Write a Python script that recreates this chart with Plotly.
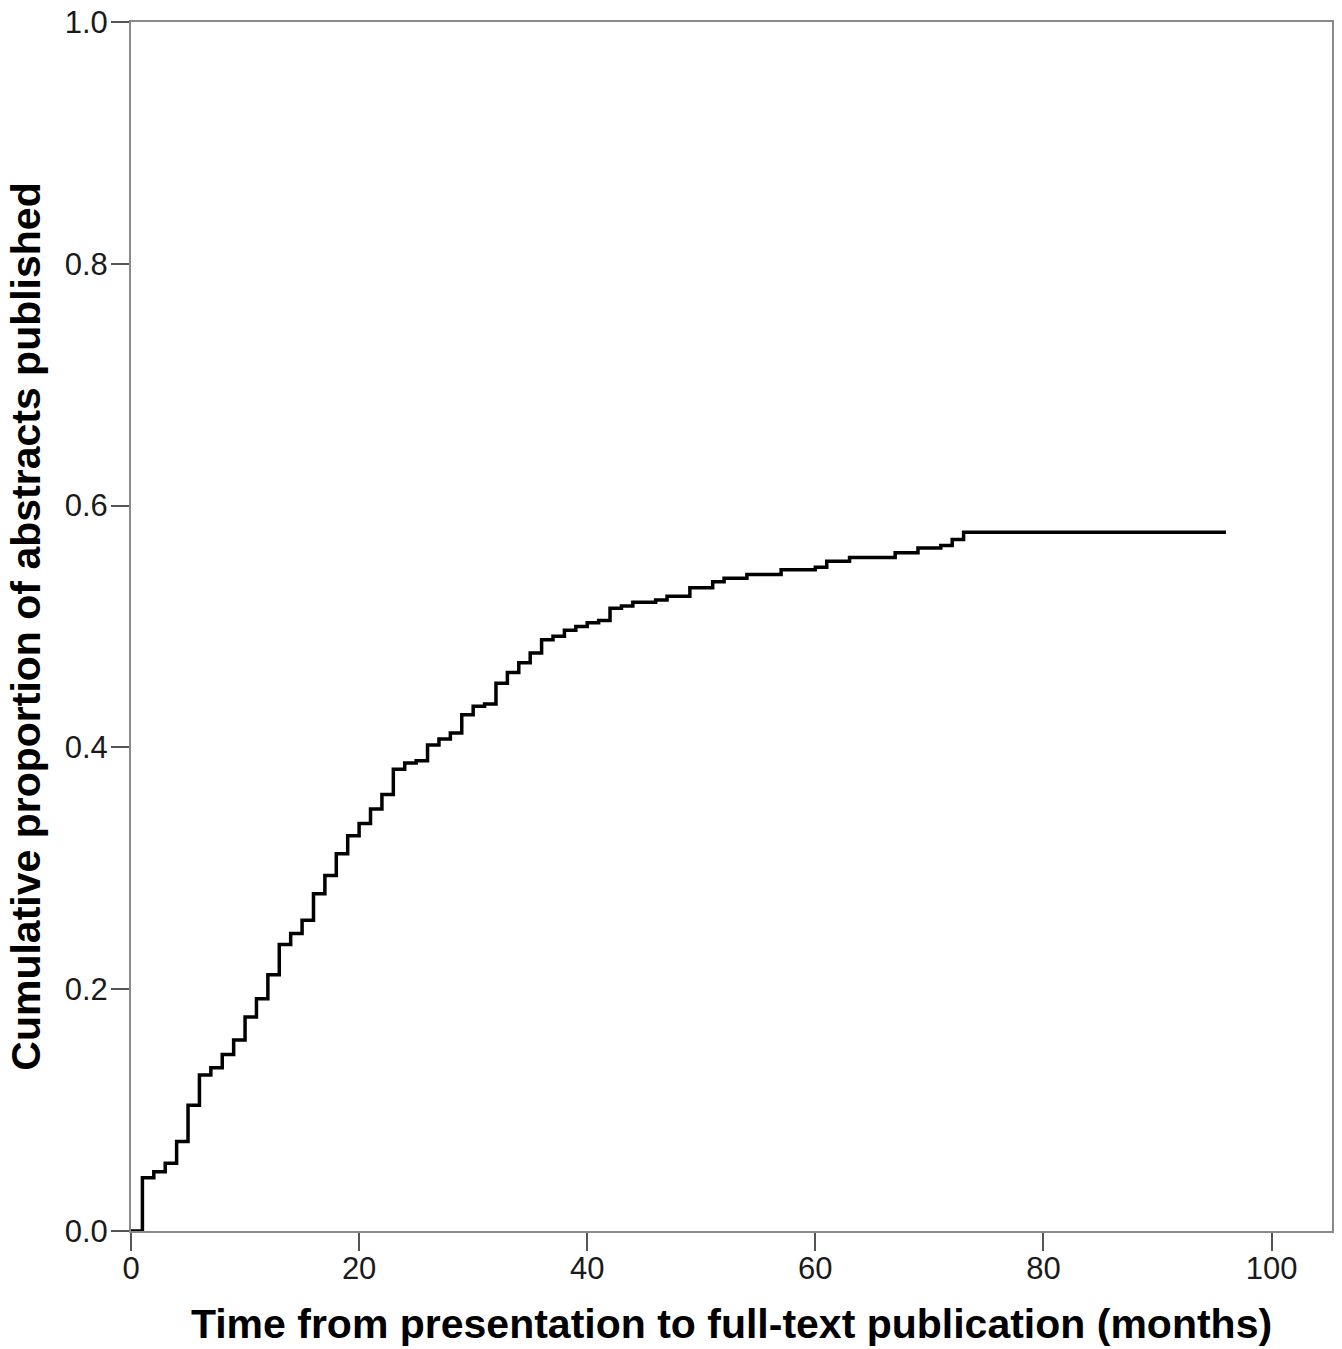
import plotly.graph_objects as go

# Step times (months) and cumulative proportion published after each step
months = [0, 1, 2, 3, 4, 5, 6, 7, 8, 9, 10, 11, 12, 13, 14, 15, 16, 17, 18, 19,
          20, 21, 22, 23, 24, 25, 26, 27, 28, 29, 30, 31, 32, 33, 34, 35, 36, 37,
          38, 39, 40, 41, 42, 43, 44, 46, 47, 49, 51, 52, 54, 57, 60, 61, 63, 67,
          69, 71, 72, 73, 96]
cum_prop = [0.0, 0.044, 0.049, 0.056, 0.074, 0.104, 0.129, 0.135, 0.146, 0.158,
            0.177, 0.192, 0.212, 0.237, 0.246, 0.257, 0.279, 0.294, 0.312, 0.327,
            0.337, 0.349, 0.361, 0.382, 0.387, 0.389, 0.402, 0.407, 0.412, 0.427,
            0.434, 0.436, 0.453, 0.462, 0.470, 0.478, 0.489, 0.492, 0.497, 0.500,
            0.503, 0.505, 0.515, 0.517, 0.520, 0.522, 0.525, 0.532, 0.537, 0.540,
            0.543, 0.547, 0.549, 0.554, 0.557, 0.561, 0.565, 0.567, 0.572, 0.578,
            0.578]

x_ticks = [0, 20, 40, 60, 80, 100]
y_ticks = [0.0, 0.2, 0.4, 0.6, 0.8, 1.0]
y_tick_labels = ["0.0", "0.2", "0.4", "0.6", "0.8", "1.0"]

FONT = "Liberation Sans, Arial, sans-serif"

fig = go.Figure()
fig.add_trace(go.Scatter(
    x=months, y=cum_prop, mode="lines",
    line=dict(color="black", width=3.5, shape="hv"),
    showlegend=False, hoverinfo="x+y"))

axis_common = dict(
    showgrid=False, zeroline=False, showline=True, mirror=True,
    linecolor="#8a8a8a", linewidth=2,
    ticks="outside", ticklen=18, tickwidth=1.5, tickcolor="#555555",
    tickfont=dict(family=FONT, size=31, color="#1a1a1a"),
    automargin=False, ticklabeloverflow="allow",
)

fig.update_layout(
    width=1342, height=1349,
    margin=dict(l=131, r=10, t=22, b=118),
    paper_bgcolor="white", plot_bgcolor="white",
    xaxis=dict(range=[0, 105.3], tickvals=x_ticks, ticklabelstandoff=-9,
               title=dict(text="<b>Time from presentation to full-text publication (months)</b>",
                          font=dict(family=FONT, size=41, color="black"),
                          standoff=24),
               **axis_common),
    yaxis=dict(range=[0, 1.0], tickvals=y_ticks, ticktext=y_tick_labels,
               ticklabelstandoff=-3,
               title=dict(text="<b>Cumulative proportion of abstracts published</b>",
                          font=dict(family=FONT, size=41, color="black"),
                          standoff=11),
               **axis_common),
)

fig.write_html("out.html",
               config={"displayModeBar": False},
               post_script="document.body.style.margin='0';document.body.style.overflow='hidden';")
